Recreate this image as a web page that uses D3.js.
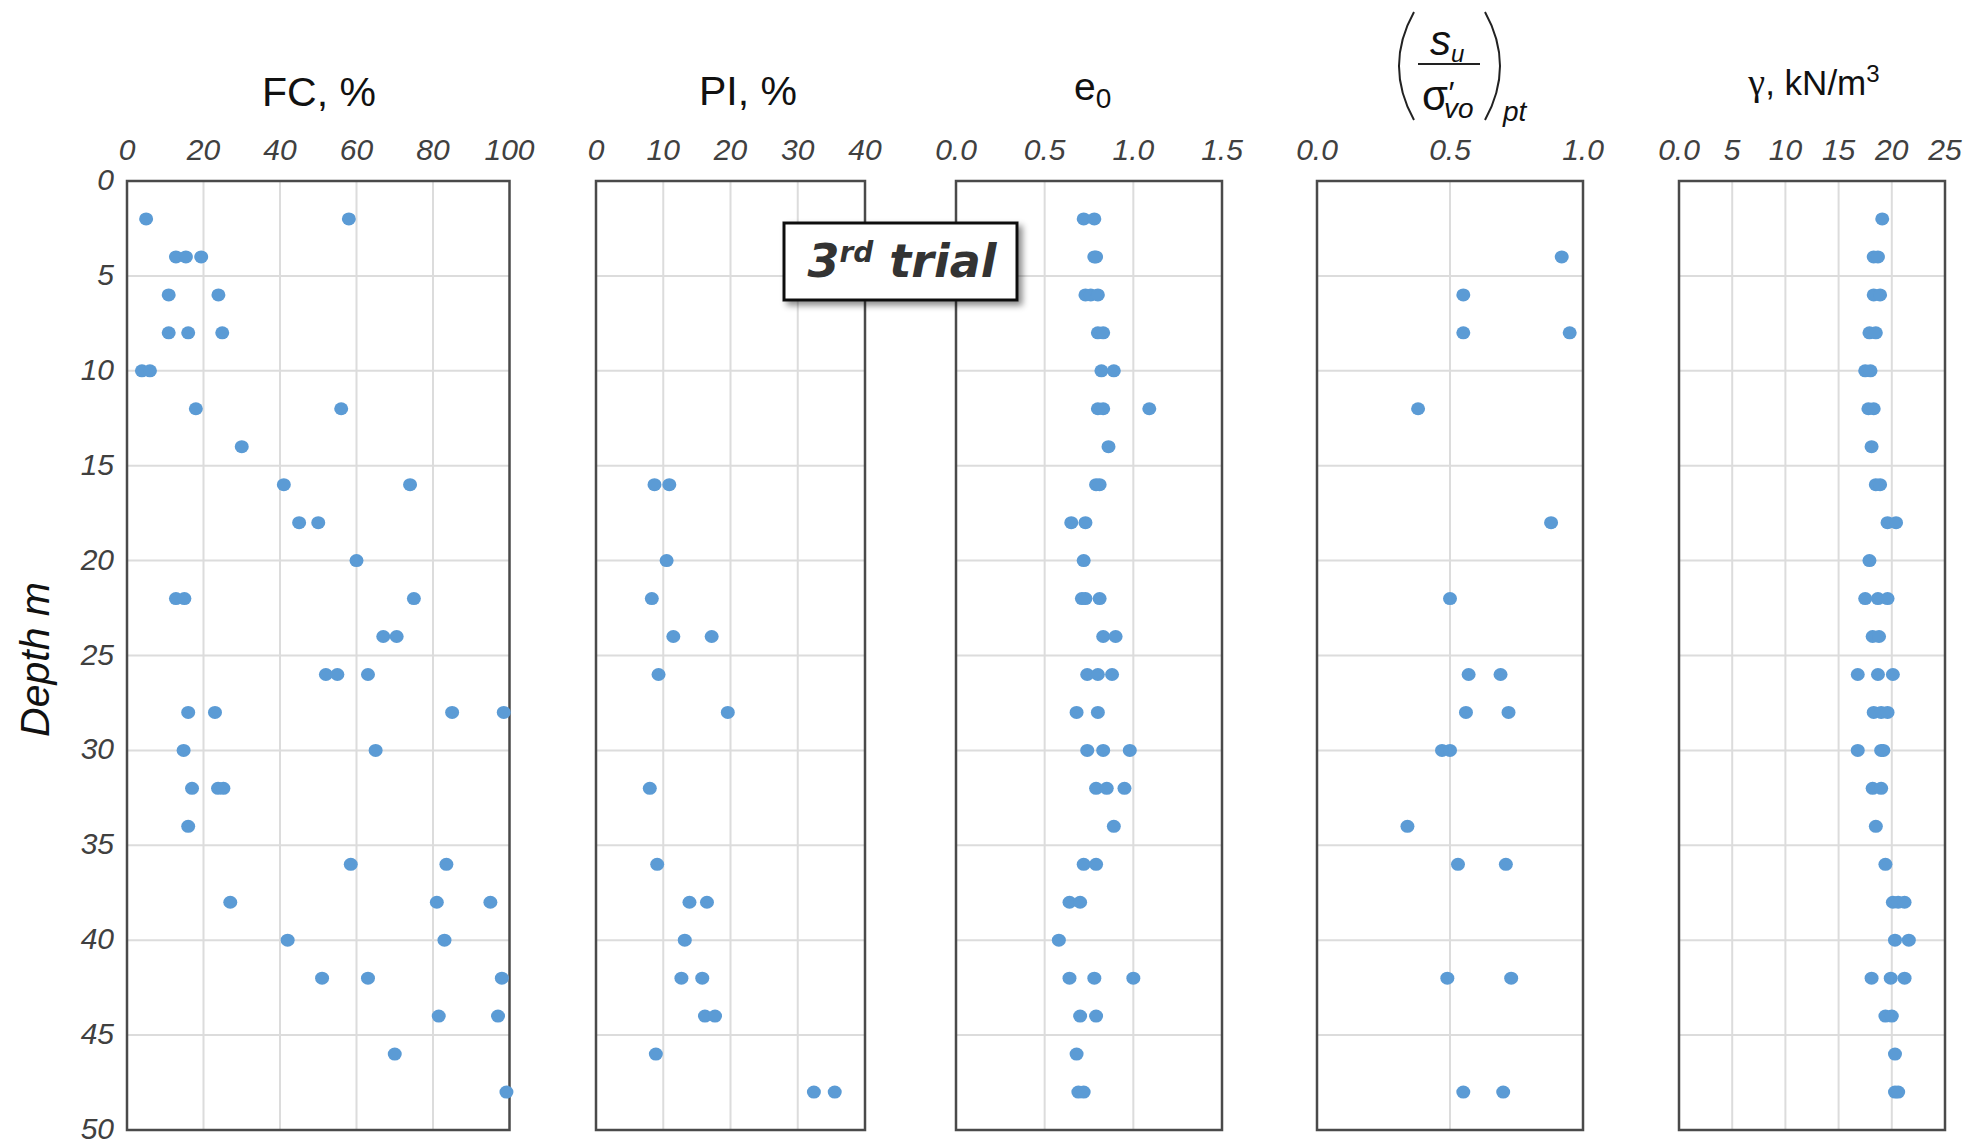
<!DOCTYPE html>
<html>
<head>
<meta charset="utf-8">
<script src="https://cdn.jsdelivr.net/npm/d3@7"></script>
<style>
  body { margin: 0; background: #fff; }
  svg { display: block; }
</style>
</head>
<body>
<div id="chart"></div>
<script>
// sample depths (m); every list below has one entry per depth
const depths = [2, 4, 6, 8, 10, 12, 14, 16, 18, 20, 22, 24, 26, 28, 30, 32, 34, 36, 38, 40, 42, 44, 46, 48];
const depthTicks = [0, 5, 10, 15, 20, 25, 30, 35, 40, 45, 50];

// FC, %
const fcValues = [
  [5, 58], [12.8, 15.4, 19.4], [10.9, 23.9], [10.9, 16, 24.9], [3.9, 6], [18, 56],
  [30], [41, 74], [45, 50], [60], [12.8, 15, 75], [67, 70.5],
  [52, 55, 63], [16, 23, 85, 98.5], [14.8, 65], [17, 23.8, 25.2], [16], [58.5, 83.5],
  [27, 81, 95], [42, 83], [51, 63, 98], [81.5, 97], [70], [99.2]
];

// PI, %
const piValues = [
  [], [], [], [], [], [],
  [], [8.7, 10.9], [], [10.5], [8.3], [11.5, 17.2],
  [9.3], [19.6], [], [8.0], [], [9.1],
  [13.9, 16.5], [13.2], [12.7, 15.8], [16.2, 17.7], [8.9], [32.4, 35.5]
];

// e0
const e0Values = [
  [0.72, 0.78], [0.78, 0.79], [0.73, 0.76, 0.80], [0.80, 0.83], [0.82, 0.89], [0.80, 0.83, 1.09],
  [0.86], [0.79, 0.81], [0.65, 0.73], [0.72], [0.71, 0.73, 0.81], [0.83, 0.90],
  [0.74, 0.80, 0.88], [0.68, 0.80], [0.74, 0.83, 0.98], [0.79, 0.85, 0.95], [0.89], [0.72, 0.79],
  [0.64, 0.70], [0.58], [0.64, 0.78, 1.00], [0.70, 0.79], [0.68], [0.69, 0.72]
];

// (su / sigma'vo)pt
const suValues = [
  [], [0.92], [0.55], [0.55, 0.95], [], [0.38],
  [], [], [0.88], [], [0.50], [],
  [0.57, 0.69], [0.56, 0.72], [0.47, 0.50], [], [0.34], [0.53, 0.71],
  [], [], [0.49, 0.73], [], [], [0.55, 0.70]
];

// unit weight, kN/m3
const gammaValues = [
  [19.1], [18.3, 18.7], [18.3, 18.9], [17.9, 18.5], [17.5, 18.0], [17.8, 18.3],
  [18.1], [18.5, 18.9], [19.6, 20.4], [17.9], [17.5, 18.7, 19.6], [18.2, 18.8],
  [16.8, 18.7, 20.1], [18.3, 19.0, 19.6], [16.8, 19.0, 19.2], [18.2, 19.0], [18.5], [19.4],
  [20.1, 20.6, 21.2], [20.3, 21.6], [18.1, 19.9, 21.2], [19.4, 20.0], [20.3], [20.3, 20.6]
];

const fcTicks = [0, 20, 40, 60, 80, 100];
const piTicks = [0, 10, 20, 30, 40];
const e0Ticks = [0, 0.5, 1.0, 1.5];
const suTicks = [0, 0.5, 1.0];
const gammaTicks = [0, 5, 10, 15, 20, 25];

const width = 1968, height = 1141;
const plotTop = 181, plotBottom = 1130;
const font = "'Liberation Sans', Arial, sans-serif";
const dotColor = "#5b9bd5";

const panels = [
  {key: "fc",    values: fcValues,    domain: [0, 100], ticks: fcTicks,    fmt: d3.format("d"),   x0: 127,  x1: 509.5},
  {key: "pi",    values: piValues,    domain: [0, 40],  ticks: piTicks,    fmt: d3.format("d"),   x0: 596,  x1: 865},
  {key: "e0",    values: e0Values,    domain: [0, 1.5], ticks: e0Ticks,    fmt: d3.format(".1f"), x0: 956,  x1: 1222},
  {key: "su",    values: suValues,    domain: [0, 1.0], ticks: suTicks,    fmt: d3.format(".1f"), x0: 1317, x1: 1583},
  {key: "gamma", values: gammaValues, domain: [0, 25],  ticks: gammaTicks, fmt: d => d === 0 ? "0.0" : d3.format("d")(d), x0: 1679, x1: 1945}
];

const svg = d3.select("#chart").append("svg")
  .attr("width", width)
  .attr("height", height)
  .style("font-family", font);

const defs = svg.append("defs");
const shadow = defs.append("filter").attr("id", "shadow")
  .attr("x", "-10%").attr("y", "-20%").attr("width", "130%").attr("height", "150%");
shadow.append("feDropShadow")
  .attr("dx", 4).attr("dy", 4).attr("stdDeviation", 3)
  .attr("flood-color", "#000").attr("flood-opacity", 0.45);

const y = d3.scaleLinear().domain([0, 50]).range([plotTop, plotBottom]);

panels.forEach(p => {
  const x = d3.scaleLinear().domain(p.domain).range([p.x0, p.x1]);
  const g = svg.append("g").attr("class", "panel " + p.key);

  // grid
  const innerX = p.ticks.slice(1, -1);
  g.append("g").selectAll("line")
    .data(innerX)
    .join("line")
      .attr("x1", d => x(d)).attr("x2", d => x(d))
      .attr("y1", plotTop).attr("y2", plotBottom)
      .attr("stroke", "#dcdcdc").attr("stroke-width", 2);
  g.append("g").selectAll("line")
    .data(depthTicks.slice(1, -1))
    .join("line")
      .attr("x1", p.x0).attr("x2", p.x1)
      .attr("y1", d => y(d)).attr("y2", d => y(d))
      .attr("stroke", "#dcdcdc").attr("stroke-width", 2);

  // frame
  g.append("rect")
    .attr("x", p.x0).attr("y", plotTop)
    .attr("width", p.x1 - p.x0).attr("height", plotBottom - plotTop)
    .attr("fill", "none")
    .attr("stroke", "#4a4a4a")
    .attr("stroke-width", 2.5);

  // top tick labels
  g.append("g").selectAll("text")
    .data(p.ticks)
    .join("text")
      .attr("x", d => x(d))
      .attr("y", 160)
      .attr("text-anchor", "middle")
      .attr("font-size", 30)
      .attr("font-style", "italic")
      .attr("fill", "#404040")
      .text(p.fmt);

  // points
  const pts = [];
  depths.forEach((d, i) => p.values[i].forEach(v => pts.push({depth: d, value: v})));
  g.append("g").selectAll("ellipse")
    .data(pts)
    .join("ellipse")
      .attr("cx", d => x(d.value))
      .attr("cy", d => y(d.depth))
      .attr("rx", 7)
      .attr("ry", 6.5)
      .attr("fill", dotColor);
});

// depth axis labels
svg.append("g").selectAll("text")
  .data(depthTicks)
  .join("text")
    .attr("x", 114)
    .attr("y", d => y(d))
    .attr("dy", "0.3em")
    .attr("text-anchor", "end")
    .attr("font-size", 30)
    .attr("font-style", "italic")
    .attr("fill", "#404040")
    .text(d => d);

svg.append("text")
  .attr("transform", `translate(49,${(plotTop + plotBottom) / 2 + 4}) rotate(-90)`)
  .attr("text-anchor", "middle")
  .attr("font-size", 41)
  .attr("font-style", "italic")
  .attr("fill", "#111")
  .text("Depth m");

// titles
const titles = svg.append("g").attr("fill", "#111");
titles.append("text")
  .attr("x", 319).attr("y", 106)
  .attr("text-anchor", "middle").attr("font-size", 41)
  .text("FC, %");
titles.append("text")
  .attr("x", 748).attr("y", 105)
  .attr("text-anchor", "middle").attr("font-size", 41)
  .text("PI, %");

const e0t = titles.append("text").attr("x", 1074).attr("y", 100).attr("font-size", 39);
e0t.append("tspan").text("e");
e0t.append("tspan").attr("dy", 8).attr("font-size", 28).text("0");

// su / sigma'vo with parentheses
const cx = 1450;
const su = titles.append("g");
su.append("path")
  .attr("d", `M${cx - 36},12 Q${cx - 66},66 ${cx - 36},120`)
  .attr("fill", "none").attr("stroke", "#222").attr("stroke-width", 2);
su.append("path")
  .attr("d", `M${cx + 35},12 Q${cx + 65},66 ${cx + 35},120`)
  .attr("fill", "none").attr("stroke", "#222").attr("stroke-width", 2);
su.append("line")
  .attr("x1", cx - 32).attr("x2", cx + 30)
  .attr("y1", 64).attr("y2", 64)
  .attr("stroke", "#222").attr("stroke-width", 2);
const num = su.append("text").attr("x", cx - 20).attr("y", 55)
  .attr("font-size", 42).attr("font-style", "italic");
num.append("tspan").text("s");
num.append("tspan").attr("dy", 7).attr("font-size", 24).text("u");
const den = su.append("text").attr("x", cx - 28).attr("y", 110).attr("font-size", 42);
den.append("tspan").text("σ");
den.append("tspan").attr("dx", -1).attr("dy", -6).attr("font-size", 32).attr("font-style", "italic").text("′");
den.append("tspan").attr("dx", -9).attr("dy", 14).attr("font-size", 28).attr("font-style", "italic").text("vo");
su.append("text").attr("x", cx + 53).attr("y", 121)
  .attr("font-size", 28).attr("font-style", "italic").text("pt");

const gt = titles.append("text").attr("x", 1814).attr("y", 95)
  .attr("text-anchor", "middle").attr("font-size", 35);
gt.append("tspan").attr("font-family", "'Liberation Serif', 'DejaVu Serif', serif").attr("font-size", 38).text("γ");
gt.append("tspan").text(", kN/m");
gt.append("tspan").attr("dy", -13).attr("font-size", 24).text("3");

// "3rd trial" label
const tag = svg.append("g");
tag.append("rect")
  .attr("x", 784).attr("y", 223)
  .attr("width", 233).attr("height", 77)
  .attr("fill", "#fff")
  .attr("stroke", "#111")
  .attr("stroke-width", 3)
  .attr("filter", "url(#shadow)");
const tagText = tag.append("text")
  .attr("x", 902).attr("y", 277)
  .attr("text-anchor", "middle")
  .attr("font-family", "'DejaVu Sans', sans-serif")
  .attr("font-weight", "bold")
  .attr("font-style", "italic")
  .attr("font-size", 46)
  .attr("fill", "#333");
tagText.append("tspan").text("3");
tagText.append("tspan").attr("dy", -15).attr("font-size", 28).text("rd");
tagText.append("tspan").attr("dy", 15).text(" trial");
</script>
</body>
</html>
